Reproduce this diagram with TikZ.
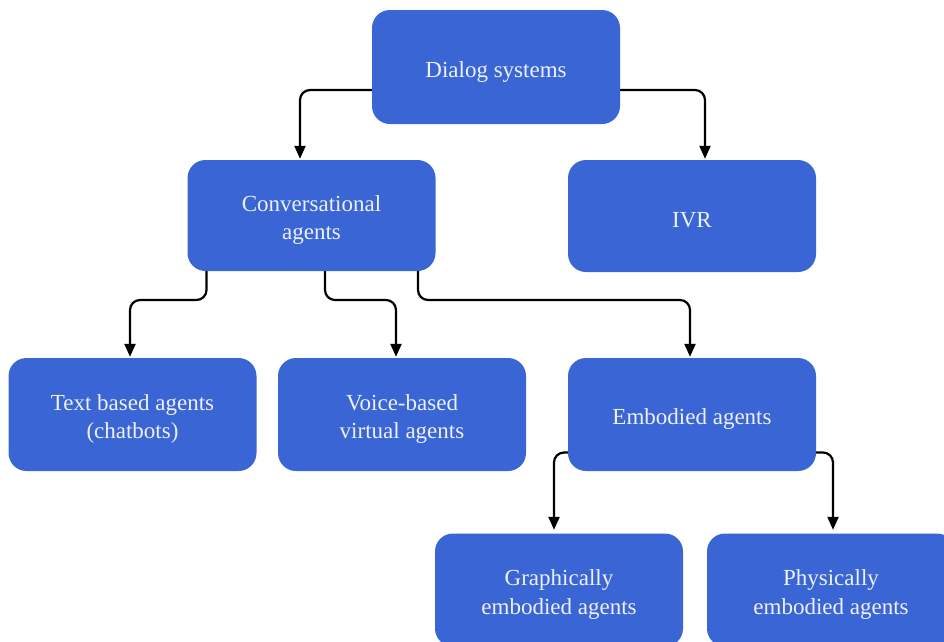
\documentclass[tikz,border=0pt]{standalone}
\usepackage{fontspec}
\setmainfont{Liberation Serif}
\usetikzlibrary{arrows.meta,calc}
\definecolor{boxblue}{RGB}{57,102,212}
\definecolor{boxtext}{RGB}{238,240,250}
\tikzset{
  box/.style={draw=none,fill=boxblue,rounded corners=18pt,
    minimum width=248pt,minimum height=113pt,inner sep=0pt},
  lbl/.style={text=boxtext,align=center,inner sep=0pt,yshift=-4.5pt,
    font=\fontsize{23}{28.5}\selectfont},
  arr/.style={draw=black,line width=2.2pt,rounded corners=10pt,
    -{Triangle[length=13pt,width=11pt]}}
}
\begin{document}
\begin{tikzpicture}[x=1pt,y=-1pt]
\useasboundingbox (0,0) rectangle (944,641);
\clip (0,0) rectangle (944,641);
\node[box,minimum height=114pt,label={[lbl]center:Dialog systems}] (dialog) at (496,67) {};
\node[box,minimum height=111pt,label={[lbl]center:Conversational\\agents}] (conv) at (311.5,215.5) {};
\node[box,minimum height=112pt,label={[lbl]center:IVR}] (ivr) at (692,216) {};
\node[box,label={[lbl]center:Text based agents\\(chatbots)}] (text) at (132.5,414.5) {};
\node[box,label={[lbl]center:Voice-based\\virtual agents}] (voice) at (402,414.5) {};
\node[box,label={[lbl]center:Embodied agents}] (emb) at (692,414.5) {};
\node[box,label={[lbl]center:Graphically\\embodied agents}] (graph) at (559,590) {};
\node[box,label={[lbl]center:Physically\\embodied agents}] (phys) at (831,590) {};
\coordinate (bus) at (0,300);
\draw[arr] ([yshift=-23pt]dialog.west) -| ([xshift=-11.5pt,yshift=1pt]conv.north);
\draw[arr] ([yshift=-23pt]dialog.east) -| ([xshift=13pt,yshift=1pt]ivr.north);
\coordinate (c1) at ([xshift=-105pt]conv.south);
\coordinate (c2) at ([xshift=13.5pt]conv.south);
\coordinate (c3) at ([xshift=106.5pt]conv.south);
\draw[arr] (c1) -- (c1 |- bus) -| ([xshift=-2.5pt,yshift=1pt]text.north);
\draw[arr] (c2) -- (c2 |- bus) -| ([xshift=-6pt,yshift=1pt]voice.north);
\draw[arr] (c3) -- (c3 |- bus) -| ([xshift=-2pt,yshift=1pt]emb.north);
\draw[arr] ([yshift=-38pt]emb.west) -| ([xshift=-5pt,yshift=3.5pt]graph.north);
\draw[arr] ([yshift=-38pt]emb.east) -| ([xshift=2pt,yshift=3.5pt]phys.north);
\end{tikzpicture}
\end{document}
